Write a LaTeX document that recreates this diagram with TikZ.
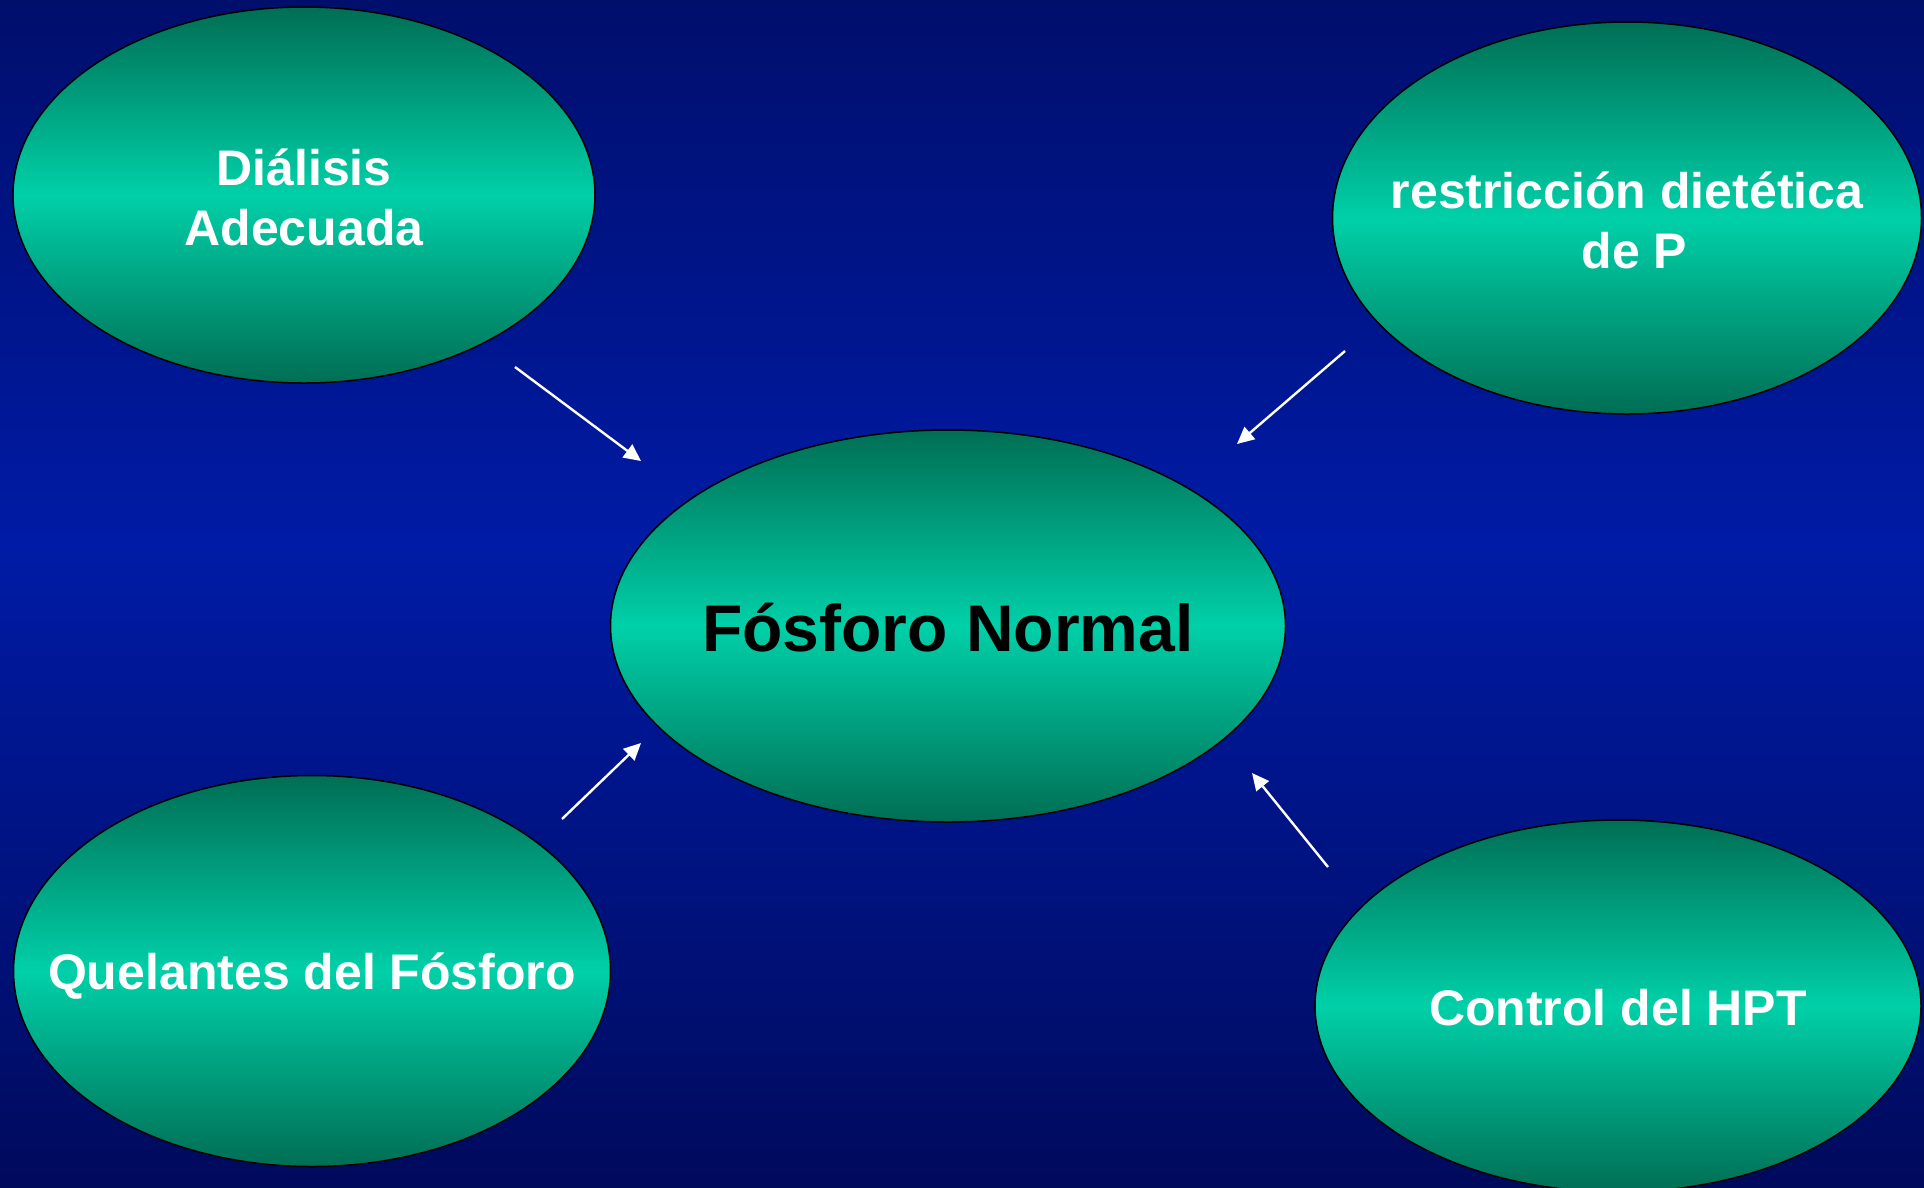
\documentclass[tikz,border=0pt]{standalone}
\usepackage{fontspec}
\setmainfont{Liberation Sans}
\usetikzlibrary{shapes.geometric,arrows.meta}
\definecolor{bgtop}{RGB}{0,14,108}
\definecolor{bgmid}{RGB}{0,27,165}
\definecolor{bgbot}{RGB}{0,10,92}
\definecolor{eldark}{RGB}{0,110,84}
\definecolor{elmid}{RGB}{0,208,168}
\pgfdeclareverticalshading{bgsh}{100bp}{color(0bp)=(bgbot); color(25bp)=(bgbot); color(52bp)=(bgmid); color(75bp)=(bgtop); color(100bp)=(bgtop)}
\pgfdeclareverticalshading{ellsh}{100bp}{color(0bp)=(eldark); color(25bp)=(eldark); color(50bp)=(elmid); color(75bp)=(eldark); color(100bp)=(eldark)}
% #1 = distance of the last baseline below the ellipse centre
\newcommand{\ovaltext}[2]{\makebox[0pt][c]{\raisebox{-#1}[0pt][0pt]{\begin{tabular}[b]{@{}c@{}}#2\end{tabular}}}}
\tikzset{
  oval/.style={ellipse, shade, shading=ellsh, draw=black, line width=1.5pt,
    inner sep=0pt, outer sep=0pt, text=white,
    font=\fontsize{50}{60}\selectfont\bfseries},
  arr/.style={draw=white, line width=2.4pt, -{Triangle[length=17pt,width=16pt]}}
}
\begin{document}
\begin{tikzpicture}[x=1pt,y=-1pt]
\useasboundingbox (0,0) rectangle (1924,1187);
\shade[shading=bgsh] (0,0) rectangle (1924,1187);

\node[oval, minimum width=582pt, minimum height=376pt] (dial) at (304,195) {\ovaltext{50pt}{Diálisis\\Adecuada}};
\node[oval, minimum width=589pt, minimum height=392pt] (rest) at (1627,218) {\ovaltext{50pt}{restricción dietética\\\hspace*{15pt}de P}};
\node[oval, minimum width=675pt, minimum height=392pt, text=black,
      font=\fontsize{66}{79}\selectfont\bfseries] (fos) at (948,626) {\ovaltext{25pt}{Fósforo Normal}};
\node[oval, minimum width=597pt, minimum height=391pt] (quel) at (312,971) {\ovaltext{18pt}{Quelantes del Fósforo}};
\node[oval, minimum width=606pt, minimum height=372pt] (ctrl) at (1618,1006) {\ovaltext{19pt}{Control del HPT}};

\coordinate (a1s) at (515,367);  \coordinate (a1e) at (641,461);
\coordinate (a2s) at (1345,351); \coordinate (a2e) at (1237,444);
\coordinate (a3s) at (562,819);  \coordinate (a3e) at (641,743);
\coordinate (a4s) at (1328,867); \coordinate (a4e) at (1252,773);

\draw[arr] (a1s) -- (a1e);
\draw[arr] (a2s) -- (a2e);
\draw[arr] (a3s) -- (a3e);
\draw[arr] (a4s) -- (a4e);
\end{tikzpicture}
\end{document}
